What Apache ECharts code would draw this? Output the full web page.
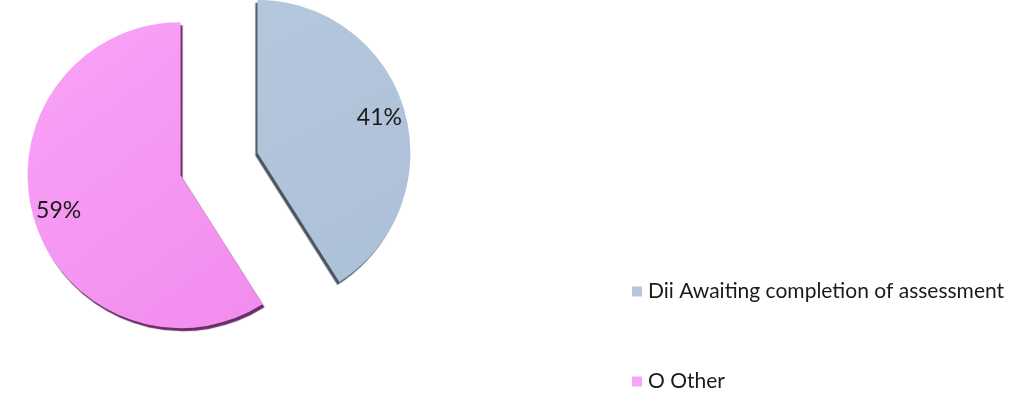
<!DOCTYPE html>
<html>
<head>
<meta charset="utf-8">
<title>Assessment status</title>
<script src="https://cdn.jsdelivr.net/npm/echarts@6/dist/echarts.min.js"></script>
<style>
  html, body { margin: 0; padding: 0; background: #ffffff; }
  #chart { width: 1016px; height: 396px; }
</style>
</head>
<body>
<div id="chart"></div>
<script>
// Share of cases by status
const categories = ['Dii Awaiting completion of assessment', 'O Other'];
const shares = [41, 59];
const sliceColors = [
  ['#b5c7dc', '#acc0d8'],
  ['#f9a3f7', '#f28cee']
];
const edgeColors = ['#4b5660', '#6a2c66'];
const edgeShift = [-2, 2];

const chart = echarts.init(document.getElementById('chart'), null, { renderer: 'canvas' });

const pieData = categories.map((name, i) => ({
  name: name,
  value: shares[i],
  selected: true,
  itemStyle: {
    color: new echarts.graphic.LinearGradient(0, 0, 1, 1, [
      { offset: 0, color: sliceColors[i][0] },
      { offset: 1, color: sliceColors[i][1] }
    ]),
    shadowColor: edgeColors[i],
    shadowBlur: 1,
    shadowOffsetX: edgeShift[i],
    shadowOffsetY: 3
  }
}));

const labelData = categories.map((name, i) => ({
  name: name,
  value: shares[i],
  selected: true
}));

const pieCenter = [219, 164];

chart.setOption({
  animation: false,
  color: sliceColors.map(c => c[0]),
  legend: {
    orient: 'vertical',
    left: 632,
    top: 281,
    padding: 0,
    itemWidth: 10,
    itemHeight: 10,
    itemGap: 69,
    icon: 'rect',
    selectedMode: false,
    data: categories.map((name, i) => ({ name: name, itemStyle: { color: sliceColors[i][0] } })),
    textStyle: {
      fontFamily: 'Lato',
      fontSize: 21,
      lineHeight: 20,
      color: '#1a1a1a',
      padding: [0, 0, 0, 1]
    }
  },
  series: [
    {
      type: 'pie',
      center: pieCenter,
      radius: 153,
      startAngle: 90,
      clockwise: true,
      selectedMode: 'multiple',
      selectedOffset: 40,
      silent: true,
      label: { show: false },
      labelLine: { show: false },
      emphasis: { disabled: true },
      data: pieData
    },
    {
      // transparent ring that only carries the percentage labels
      type: 'pie',
      center: pieCenter,
      radius: [95, 153],
      startAngle: 90,
      clockwise: true,
      selectedMode: 'multiple',
      selectedOffset: 40,
      silent: true,
      itemStyle: { color: 'rgba(0,0,0,0)' },
      label: {
        show: true,
        position: 'inside',
        formatter: p => p.value + '%',
        fontFamily: 'Lato',
        fontSize: 23,
        color: '#1a1a1a'
      },
      labelLine: { show: false },
      emphasis: { disabled: true },
      data: labelData
    }
  ]
});
</script>
</body>
</html>
